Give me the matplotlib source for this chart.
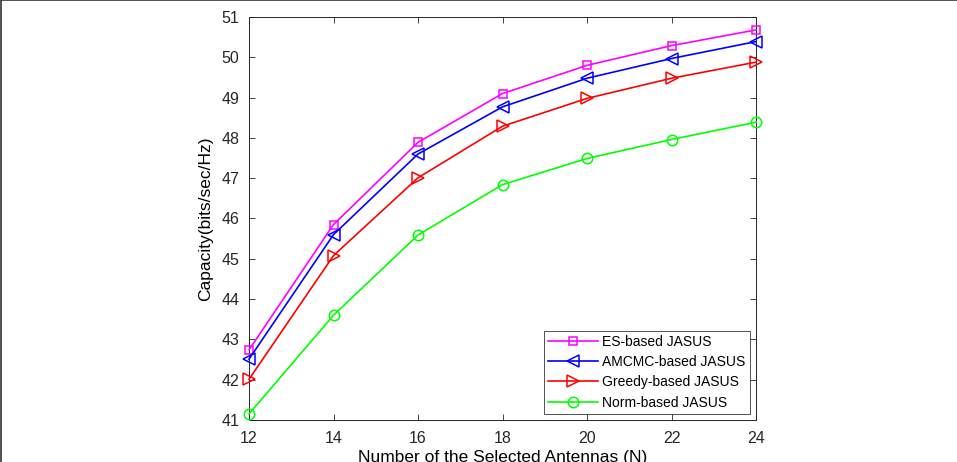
import matplotlib
matplotlib.use('Agg')
import matplotlib.pyplot as plt
from matplotlib.patches import Rectangle

plt.rcParams['font.family'] = ['Liberation Sans', 'DejaVu Sans']

# ------------------------------------------------------------------------------
# data
n_antennas = [12, 14, 16, 18, 20, 22, 24]
es_based = [42.74, 45.85, 47.89, 49.10, 49.80, 50.29, 50.68]
amcmc_based = [42.51, 45.60, 47.60, 48.77, 49.48, 49.97, 50.39]
greedy_based = [42.01, 45.08, 47.01, 48.29, 48.98, 49.48, 49.88]
norm_based = [41.15, 43.60, 45.59, 46.84, 47.49, 47.96, 48.39]

series = [('ES-based JASUS', es_based, '#ff00ff', 's', 6),
          ('AMCMC-based JASUS', amcmc_based, '#0000ff', '<', 8),
          ('Greedy-based JASUS', greedy_based, '#ff0000', '>', 8),
          ('Norm-based JASUS', norm_based, '#00ff00', 'o', 7.5)]

fig = plt.figure(figsize=(9.57, 4.62), dpi=100)
ax = fig.add_axes([249 / 957., 1 - 420 / 462., (756 - 249) / 957., (420 - 17) / 462.])

for label, values, color, marker, msize in series:
    ax.plot(n_antennas, values, color=color, marker=marker, markersize=msize,
            markerfacecolor='none', markeredgewidth=1.1, linewidth=1.2,
            label=label, clip_on=False, zorder=3)

ax.set_xlim(12, 24)
ax.set_ylim(41, 51)
ax.set_xticks(range(12, 25, 2))
ax.set_yticks(range(41, 52))
ax.tick_params(direction='in', top=True, right=True, labelsize=11.5,
               colors='#262626', length=4, width=0.6)
ax.tick_params(axis='x', pad=8)
ax.tick_params(axis='y', pad=7)
for sp in ax.spines.values():
    sp.set_color('#262626')
    sp.set_linewidth(0.7)

# the reference crops the x label at the bottom edge
ax.set_xlabel('Number of the Selected Antennas (N)', fontsize=12.5, labelpad=3)
ax.set_ylabel('Capacity(bits/sec/Hz)', fontsize=12.5, labelpad=6)

leg = ax.legend(loc='lower right', fontsize=10, frameon=True, fancybox=False,
                edgecolor='#262626', borderpad=0.3, labelspacing=0.45,
                handlelength=3.6, handletextpad=0.3, borderaxespad=0.45)
leg.get_frame().set_linewidth(0.7)

# thin frame around the figure (top and left edges visible)
fig.patches.append(Rectangle((0.001, -0.02), 1.2, 1.019, transform=fig.transFigure,
                             fill=False, edgecolor='#333333', linewidth=1.2))

fig.savefig('out.png', dpi=100)
